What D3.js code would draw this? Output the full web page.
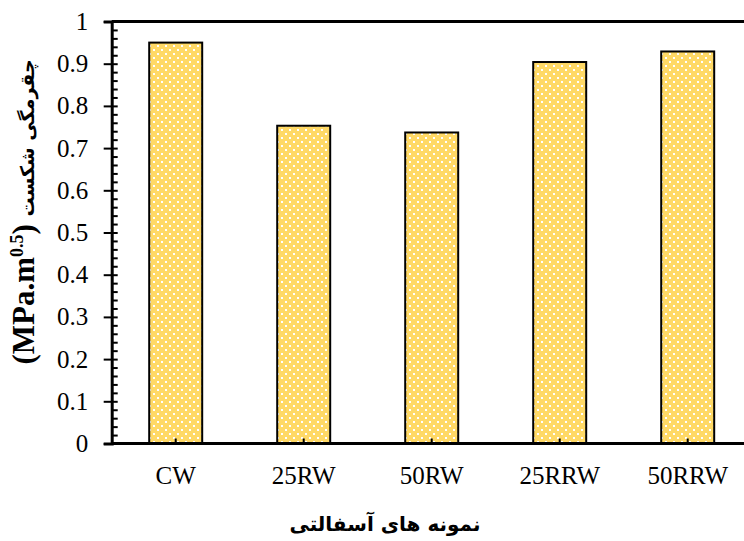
<!DOCTYPE html>
<html>
<head>
<meta charset="utf-8">
<script src="https://cdn.jsdelivr.net/npm/d3@7"></script>
<style>
  body { margin: 0; background: #fff; }
  svg { display: block; }
</style>
</head>
<body>
<svg id="chart" width="744" height="541"></svg>
<script>
var categories = ["CW", "25RW", "50RW", "25RRW", "50RRW"];
var toughness = [0.95, 0.753, 0.737, 0.904, 0.929];
var yTicks = [0, 0.1, 0.2, 0.3, 0.4, 0.5, 0.6, 0.7, 0.8, 0.9, 1];
var yMinorTicks = d3.range(0, 51).map(function (i) { return i / 50; });

var [plotLeft, plotTop, plotBottom, step] = [111.7, 21.5, 443.5, 128];
var serif = "Liberation Serif, Times New Roman, serif";

var svg = d3.select("#chart");

/** dotted fill */
var pat = svg.append("defs").append("pattern")
    .attr("id", "dots")
    .attr("patternUnits", "userSpaceOnUse")
    .attr("width", 8).attr("height", 8);
pat.append("rect").attr("width", 8).attr("height", 8).attr("fill", "#FFD966");
pat.append("rect").attr("x", 1).attr("y", 1).attr("width", 2).attr("height", 2).attr("fill", "#fff");
pat.append("rect").attr("x", 5).attr("y", 5).attr("width", 2).attr("height", 2).attr("fill", "#fff");

/** scales */
var xScale = d3.scaleBand()
    .domain(categories)
    .range([plotLeft, plotLeft + step * categories.length])
    .paddingInner(0.586)
    .paddingOuter(0.293);
var yScale = d3.scaleLinear()
    .domain([0, 1])
    .range([plotBottom, plotTop]);

/** bars */
svg.selectAll(".bar")
    .data(categories)
    .enter()
    .append("rect")
    .attr("class", "bar")
    .attr("x", function (d) { return xScale(d); })
    .attr("y", function (d, i) { return yScale(toughness[i]); })
    .attr("width", xScale.bandwidth())
    .attr("height", function (d, i) { return plotBottom - yScale(toughness[i]); })
    .attr("fill", "url(#dots)")
    .attr("stroke", "#000")
    .attr("stroke-width", 2);

/** top frame line */
svg.append("line")
    .attr("x1", plotLeft).attr("x2", 744)
    .attr("y1", plotTop).attr("y2", plotTop)
    .attr("stroke", "#000").attr("stroke-width", 3);

/** y axis: labels + outward major ticks */
var yAxis = svg.append("g")
    .attr("transform", "translate(" + plotLeft + ",0)")
    .call(d3.axisLeft(yScale).tickValues(yTicks).tickFormat(d3.format("")).tickSize(8).tickPadding(15.5));
yAxis.select(".domain").attr("stroke-width", 3);
yAxis.selectAll(".tick line").attr("stroke-width", 2);
yAxis.selectAll("text")
    .attr("font-family", serif)
    .attr("font-size", 25)
    .attr("fill", "#000");

/** y axis: inward minor ticks */
var yMinor = svg.append("g")
    .attr("transform", "translate(" + plotLeft + ",0)")
    .call(d3.axisRight(yScale).tickValues(yMinorTicks).tickSize(6).tickFormat(""));
yMinor.select(".domain").remove();
yMinor.selectAll(".tick line").attr("stroke-width", 2);

/** x axis */
var xAxis = svg.append("g")
    .attr("transform", "translate(0," + plotBottom + ")")
    .call(d3.axisBottom(xScale).tickSize(-5).tickPadding(22.7).tickSizeOuter(0));
xAxis.select(".domain")
    .attr("d", "M" + plotLeft + ",0H744")
    .attr("stroke-width", 3);
xAxis.selectAll(".tick line").attr("stroke-width", 2);
xAxis.selectAll("text")
    .attr("font-family", serif)
    .attr("font-size", 25)
    .attr("fill", "#000");

/** titles */
svg.append("text")
    .attr("x", 385).attr("y", 531)
    .attr("text-anchor", "middle")
    .attr("font-family", "DejaVu Sans, sans-serif")
    .attr("font-weight", "bold")
    .attr("font-size", 20)
    .attr("direction", "rtl")
    .text("نمونه های آسفالتی");

var yTitle = svg.append("text")
    .attr("transform", "translate(34,212) rotate(-90)")
    .attr("text-anchor", "middle")
    .attr("font-weight", "bold")
    .attr("font-size", 31);
yTitle.append("tspan")
    .attr("font-family", serif)
    .text("(MPa.m");
yTitle.append("tspan")
    .attr("font-family", serif)
    .attr("font-size", 18)
    .attr("dy", -11)
    .text("0.5");
yTitle.append("tspan")
    .attr("font-family", serif)
    .attr("dy", 11)
    .text(") ");
yTitle.append("tspan")
    .attr("font-family", "DejaVu Sans, sans-serif")
    .attr("font-size", 19)
    .text("چقرمگی شکست");
</script>
</body>
</html>
